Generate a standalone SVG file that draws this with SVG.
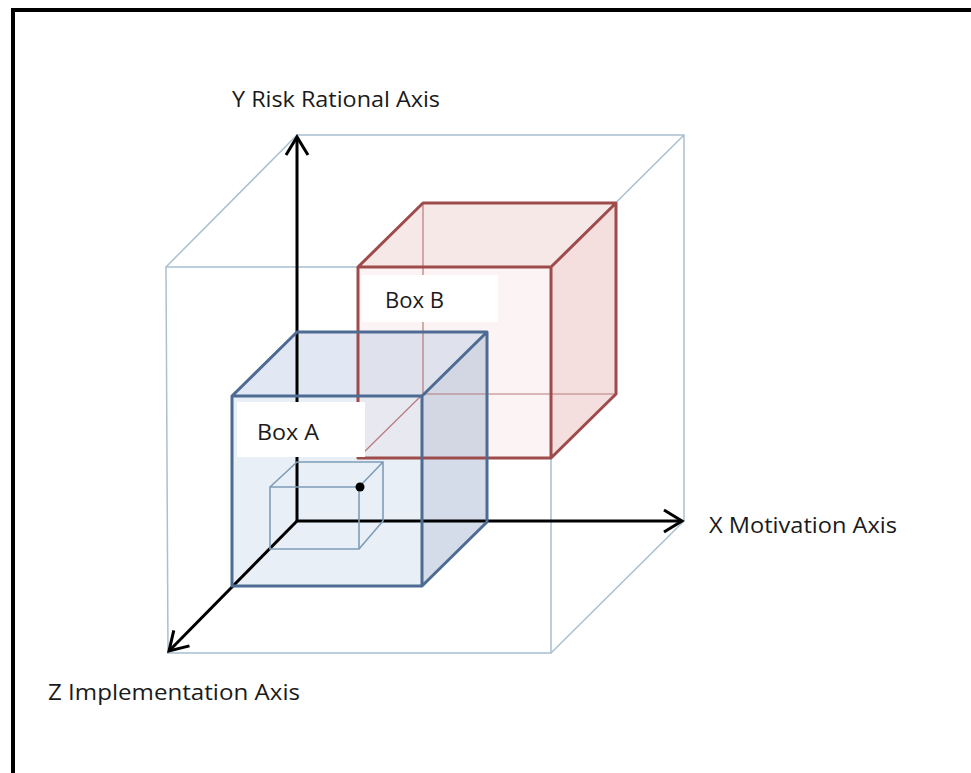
<svg xmlns="http://www.w3.org/2000/svg" width="971" height="773" viewBox="0 0 971 773">
<defs>
<marker id="arr" markerUnits="userSpaceOnUse" markerWidth="30" markerHeight="30" viewBox="-22 -15 30 30" refX="0" refY="0" orient="auto">
<path d="M-18,-11 L0,0 L-18,11" fill="none" stroke="#000" stroke-width="3" stroke-linejoin="miter"/>
</marker>
</defs>
<style>
.frame{fill:none;stroke:#000;stroke-width:4}
.outer{fill:none;stroke:#a9c0cf;stroke-width:1.5}
.axis{fill:none;stroke:#000;stroke-width:3;marker-end:url(#arr)}
.aEdge{fill:none;stroke:#4e6b93;stroke-width:3;stroke-linejoin:round}
.bEdge{fill:none;stroke:#9e4b4b;stroke-width:3;stroke-linejoin:round}
.bThin{fill:none;stroke:#b87a7a;stroke-width:1.2}
.small{fill:none;stroke:#7f9db6;stroke-width:1.6}
.lbl{font-family:"Open Sans","Liberation Sans",sans-serif;font-size:22px;fill:#1a1a1a}
.bg{fill:#fff}
</style>
<rect width="971" height="773" fill="#fff"/>
<path class="frame" d="M13,773 V10 H971"/>

<g id="outer-cube">
<path class="outer" d="M166,267 L551,267 L551,653 L168,653 Z"/>
<path class="outer" d="M166,267 L297,135 L684,135 L684,521 M551,267 L684,135 M551,653 L684,521"/>
</g>

<g id="box-b-fill">
<rect x="358" y="267" width="193" height="191" fill="#f2d2d2" fill-opacity="0.25"/>
<polygon points="358,267 423,203 616,203 551,267" fill="#edc8c8" fill-opacity="0.42"/>
<polygon points="551,267 616,203 616,394 551,458" fill="#ebc3c3" fill-opacity="0.55"/>
</g>

<g id="box-a-fill">
<rect x="232" y="396" width="190" height="190" fill="#c8d7eb" fill-opacity="0.4"/>
<polygon points="232,396 297,332 487,332 422,396" fill="#bccde4" fill-opacity="0.45"/>
<polygon points="422,396 487,332 487,522 422,586" fill="#a9bad4" fill-opacity="0.5"/>
</g>

<g id="axes">
<line class="axis" x1="297" y1="521" x2="297" y2="137"/>
<line class="axis" x1="297" y1="521" x2="682" y2="521"/>
<line class="axis" x1="297" y1="521" x2="169" y2="651"/>
</g>

<g id="box-b">
<path class="bThin" d="M423,203 V394 H616 M358,458 L423,394"/>
<path class="bEdge" d="M358,458 V267 H551 V458 Z M358,267 L423,203 H616 V394 L551,458 M551,267 L616,203"/>
</g>

<g id="box-a">
<path class="aEdge" d="M232,396 H422 V586 H232 Z M232,396 L297,332 H487 V522 L422,586 M422,396 L487,332"/>
</g>

<g id="small-box">
<path class="small" d="M270,487 H359 V549 H270 Z M270,487 L297,462 H383 V521 L359,549 M359,487 L383,462"/>
<circle cx="360" cy="487" r="4.5" fill="#000"/>
</g>

<g id="label-box-b">
<rect class="bg" x="362" y="275" width="136" height="47"/>
<text class="lbl" x="385" y="308" textLength="59" lengthAdjust="spacingAndGlyphs">Box B</text>
</g>
<g id="label-box-a">
<rect class="bg" x="237" y="402" width="128" height="55"/>
<text class="lbl" x="257" y="440" textLength="62" lengthAdjust="spacingAndGlyphs">Box A</text>
</g>

<g id="axis-labels">
<text class="lbl" x="232" y="107" textLength="208" lengthAdjust="spacingAndGlyphs">Y Risk Rational Axis</text>
<text class="lbl" x="709" y="533" textLength="188" lengthAdjust="spacingAndGlyphs">X Motivation Axis</text>
<text class="lbl" x="48" y="700" textLength="252" lengthAdjust="spacingAndGlyphs">Z Implementation Axis</text>
</g>
</svg>
